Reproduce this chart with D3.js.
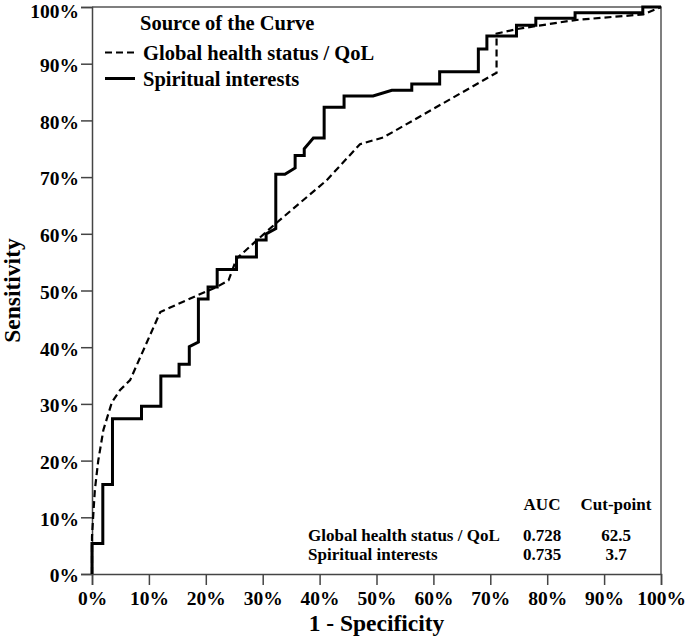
<!DOCTYPE html>
<html>
<head>
<meta charset="utf-8">
<script src="https://cdn.jsdelivr.net/npm/d3@7"></script>
<style>
  body { margin: 0; background: #fff; }
  text { font-family: "Liberation Serif", "Times New Roman", serif; font-weight: bold; fill: #000; }
</style>
</head>
<body>
<script>
// ROC curve vertices (1 - specificity, sensitivity)
const qolFpr = [0, 0, 0.002, 0.005, 0.011, 0.02, 0.035, 0.049, 0.067, 0.12, 0.184, 0.219, 0.24, 0.254, 0.289, 0.325, 0.412, 0.471, 0.512, 0.711, 0.711, 0.746, 0.849, 0.969, 1]
const qolTpr = [0, 0.066, 0.1, 0.148, 0.2, 0.254, 0.303, 0.324, 0.342, 0.462, 0.491, 0.506, 0.518, 0.556, 0.588, 0.62, 0.694, 0.758, 0.77, 0.884, 0.953, 0.961, 0.977, 0.987, 1]

const spFpr = [0, 0, 0.019, 0.019, 0.036, 0.036, 0.087, 0.087, 0.121, 0.121, 0.153, 0.153, 0.171, 0.171, 0.187, 0.187, 0.204, 0.204, 0.22, 0.22, 0.254, 0.254, 0.289, 0.289, 0.306, 0.306, 0.323, 0.323, 0.339, 0.357, 0.357, 0.373, 0.373, 0.389, 0.408, 0.408, 0.443, 0.443, 0.494, 0.527, 0.562, 0.562, 0.611, 0.611, 0.679, 0.679, 0.694, 0.694, 0.746, 0.746, 0.78, 0.78, 0.849, 0.849, 0.968, 0.968, 1]
const spTpr = [0, 0.054, 0.054, 0.158, 0.158, 0.274, 0.274, 0.296, 0.296, 0.349, 0.349, 0.37, 0.37, 0.401, 0.409, 0.485, 0.485, 0.506, 0.506, 0.537, 0.537, 0.559, 0.559, 0.589, 0.589, 0.6, 0.609, 0.705, 0.705, 0.716, 0.738, 0.738, 0.75, 0.769, 0.769, 0.823, 0.823, 0.843, 0.843, 0.853, 0.853, 0.864, 0.864, 0.886, 0.886, 0.926, 0.926, 0.949, 0.949, 0.968, 0.968, 0.98, 0.98, 0.99, 0.99, 1, 1]

const tickValues = [0, 0.1, 0.2, 0.3, 0.4, 0.5, 0.6, 0.7, 0.8, 0.9, 1]

const seriesNames = ["Global health status / QoL", "Spiritual interests"]
const aucValues = ["0.728", "0.735"]
const cutPoints = ["62.5", "3.7"]

const width = 685
const height = 642
const margin = {left: 92, top: 7, right: 24, bottom: 68}
const w = width - margin.left - margin.right
const h = height - margin.top - margin.bottom

const root = d3.select('body').append('svg')
  .attr('width', width)
  .attr('height', height)

const svg = root.append('g')
  .attr('transform', `translate(${margin.left},${margin.top})`)

const x = d3.scaleLinear().domain([0, 1]).range([0, w])
const y = d3.scaleLinear().domain([0, 1]).range([h, 0])

// frame (top and right edges)
svg.append('path')
  .attr('d', `M0 ${y(1)} H${x(1)} V${y(0)}`)
  .style('fill', 'none')
  .style('stroke', '#555')
  .style('stroke-width', 1.5)

const xAxis = d3.axisBottom(x)
  .tickValues(tickValues)
  .tickFormat(d3.format('.0%'))
  .tickSize(11)
  .tickPadding(6)

const yAxis = d3.axisLeft(y)
  .tickValues(tickValues)
  .tickFormat(d3.format('.0%'))
  .tickSize(11)
  .tickPadding(2)

const gx = svg.append('g')
  .attr('transform', `translate(0,${h})`)
  .call(xAxis)
const gy = svg.append('g').call(yAxis)

;[gx, gy].forEach(function(g){
  g.selectAll('path, line').style('stroke', '#444').style('stroke-width', 1.5)
  g.selectAll('text')
    .style('font-family', '"Liberation Serif", serif')
    .style('font-weight', 'bold')
    .style('font-size', '19.5px')
    .style('fill', '#000')
})
// top label sits right at the edge; nudge it down so it stays in the frame
gy.selectAll('text').attr('dy', d => d === 1 ? '0.55em' : '0.4em')

// axis titles
svg.append('text')
  .attr('x', w / 2)
  .attr('y', h + 57)
  .attr('text-anchor', 'middle')
  .style('font-size', '23.5px')
  .text('1 - Specificity')

svg.append('text')
  .attr('transform', `translate(${-72},${h / 2}) rotate(-90)`)
  .attr('text-anchor', 'middle')
  .style('font-size', '23.5px')
  .text('Sensitivity')

// curves
const line = d3.line()
  .x(d => x(d[0]))
  .y(d => y(d[1]))

const qolPts = d3.zip(qolFpr, qolTpr)
const spPts = d3.zip(spFpr, spTpr)

svg.append('path')
  .datum(qolPts)
  .attr('d', line)
  .style('fill', 'none')
  .style('stroke', '#000')
  .style('stroke-width', 2.2)
  .style('stroke-dasharray', '7,4')

svg.append('path')
  .datum(spPts)
  .attr('d', line)
  .style('fill', 'none')
  .style('stroke', '#000')
  .style('stroke-width', 3)
  .style('stroke-linejoin', 'miter')

// legend
const legend = root.append('g')
legend.append('text')
  .attr('x', 140)
  .attr('y', 30)
  .style('font-size', '20.5px')
  .text('Source of the Curve')

const legendItems = legend.selectAll('g.item').data(seriesNames).enter().append('g')
  .attr('class', 'item')
  .attr('transform', (d, i) => `translate(0,${60 + i * 26})`)

legendItems.append('line')
  .attr('x1', 105).attr('x2', 135)
  .attr('y1', -7.5).attr('y2', -7.5)
  .style('stroke', '#000')
  .style('stroke-width', (d, i) => i === 0 ? 2.2 : 3)
  .style('stroke-dasharray', (d, i) => i === 0 ? '7,4' : null)

legendItems.append('text')
  .attr('x', 143)
  .attr('y', 0)
  .style('font-size', '20.5px')
  .text(d => d)

// AUC table
const table = root.append('g').style('font-size', '17px')
table.append('text').attr('x', 542).attr('y', 510).attr('text-anchor', 'middle').text('AUC')
table.append('text').attr('x', 616).attr('y', 510).attr('text-anchor', 'middle').text('Cut-point')

seriesNames.forEach(function(name, i){
  const yy = 541 + i * 19
  table.append('text').attr('x', 308).attr('y', yy).text(name)
  table.append('text').attr('x', 542).attr('y', yy).attr('text-anchor', 'middle').text(aucValues[i])
  table.append('text').attr('x', 616).attr('y', yy).attr('text-anchor', 'middle').text(cutPoints[i])
})
</script>
</body>
</html>
